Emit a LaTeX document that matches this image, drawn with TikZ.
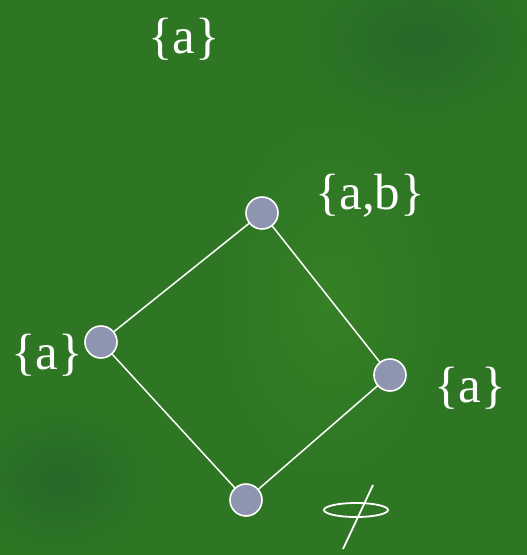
\documentclass[tikz,border=0pt]{standalone}
\usepackage{fontspec}
\setmainfont{Liberation Serif}
\usetikzlibrary{shapes.geometric}
\definecolor{bggreen}{RGB}{46,118,36}
\definecolor{bgdark}{RGB}{38,104,40}
\definecolor{bglight}{RGB}{54,128,38}
\definecolor{nodefill}{RGB}{142,149,176}
\begin{document}
\begin{tikzpicture}[x=1pt,y=-1pt,
  elem/.style={circle,draw=white,line width=1.6pt,fill=nodefill,minimum size=32pt,inner sep=0pt},
  edge/.style={draw=white,line width=1.5pt},
  lbl/.style={text=white,font=\fontsize{51}{55}\selectfont,inner sep=0pt}]
\useasboundingbox (0,0) rectangle (527,555);
\fill[bggreen] (0,0) rectangle (527,555);
\shade[inner color=bgdark,outer color=bggreen] (420,40) ellipse (130 and 90);
\shade[inner color=bglight,outer color=bggreen] (330,300) ellipse (110 and 180);
\shade[inner color=bgdark,outer color=bggreen] (60,480) ellipse (100 and 80);
\node[elem] (top) at (262,213) {};
\node[elem] (left) at (101,342) {};
\node[elem] (right) at (390,375) {};
\node[elem] (bot) at (246,500) {};
\draw[edge] (top) -- (left);
\draw[edge] (top) -- (right);
\draw[edge] (left) -- (bot);
\draw[edge] (right) -- (bot);
\node[lbl] (l0) at (184,39) {\{a\}};
\node[lbl] (l1) at (370,196) {\{a,b\}};
\node[lbl] (l2) at (47,355) {\{a\}};
\node[lbl] (l3) at (470,388) {\{a\}};
\coordinate (es1) at (373,485);
\coordinate (es2) at (343,549);
\node[draw=white,line width=1.8pt,ellipse,minimum width=64pt,minimum height=14pt,inner sep=0pt] (es) at (356,510) {};
\draw[edge,line width=1.8pt] (es1) -- (es2);
\end{tikzpicture}
\end{document}
